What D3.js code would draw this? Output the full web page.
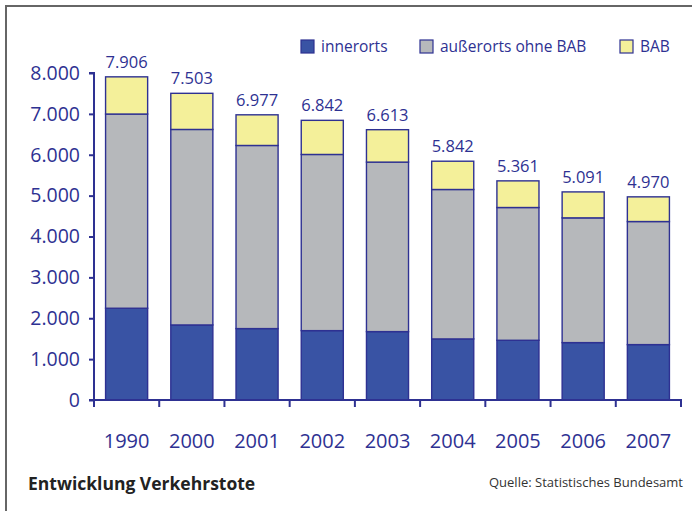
<!DOCTYPE html>
<html>
<head>
<meta charset="utf-8">
<script src="https://cdn.jsdelivr.net/npm/d3@7"></script>
<style>
  body { margin: 0; background: #fff; }
  text { font-family: "Open Sans", "Noto Sans", sans-serif; }
</style>
</head>
<body>
<svg id="chart" width="692" height="511"></svg>
<script>
// data
const years = ['1990', '2000', '2001', '2002', '2003', '2004', '2005', '2006', '2007'];
const innerorts = [2245, 1836, 1747, 1697, 1673, 1494, 1461, 1404, 1355];
const ausserorts = [4751, 4783, 4480, 4310, 4147, 3656, 3248, 3052, 3011];
const bab = [910, 884, 750, 835, 793, 692, 652, 635, 604];
const totals = [7906, 7503, 6977, 6842, 6613, 5842, 5361, 5091, 4970];
const yTicks = [0, 1000, 2000, 3000, 4000, 5000, 6000, 7000, 8000];
const seriesNames = ['innerorts', 'außerorts ohne BAB', 'BAB'];

const navy = '#2e3192';
const colors = ['#3953a4', '#b6b8bb', '#f4f09a'];

const rows = years.map((y, i) => ({
  year: y,
  innerorts: innerorts[i],
  ausserorts: ausserorts[i],
  bab: bab[i],
  total: totals[i]
}));

const de = d3.formatLocale({ decimal: ',', thousands: '.', grouping: [3], currency: ['', ' €'] });
const fmt = de.format(',d');

const svg = d3.select('#chart');

// frame (top and left lines only)
svg.append('path')
  .attr('d', 'M6,511 V6 H692')
  .attr('fill', 'none')
  .attr('stroke', '#666')
  .attr('stroke-width', 2);

const x = d3.scaleBand()
  .domain(years)
  .range([94, 681])
  .paddingInner(0.355)
  .paddingOuter(0.1775);

const y = d3.scaleLinear()
  .domain([0, 8000])
  .range([400, 73]);

const stack = d3.stack().keys(['innerorts', 'ausserorts', 'bab']);
const series = stack(rows);

const layers = svg.append('g')
  .selectAll('g')
  .data(series)
  .join('g')
  .attr('fill', (d, i) => colors[i]);

layers.selectAll('rect')
  .data(d => d)
  .join('rect')
  .attr('x', d => x(d.data.year))
  .attr('y', d => y(d[1]))
  .attr('width', x.bandwidth())
  .attr('height', d => y(d[0]) - y(d[1]))
  .attr('stroke', navy)
  .attr('stroke-width', 1.4);

// totals above bars
svg.append('g')
  .selectAll('text')
  .data(rows)
  .join('text')
  .attr('x', d => x(d.year) + x.bandwidth() / 2)
  .attr('y', d => y(d.total) - 9)
  .attr('text-anchor', 'middle')
  .attr('font-size', 16.5)
  .attr('fill', navy)
  .text(d => fmt(d.total));

// y axis
const yAxis = svg.append('g')
  .attr('transform', 'translate(94,0)')
  .call(d3.axisLeft(y).tickValues(yTicks).tickSize(5).tickPadding(9).tickFormat(fmt));
yAxis.select('.domain').attr('stroke', navy).attr('stroke-width', 2).attr('d', 'M-5,' + y(8000) + 'H0V' + y(0));
yAxis.selectAll('.tick line').attr('stroke', navy).attr('stroke-width', 2);
yAxis.selectAll('.tick text')
  .attr('fill', navy)
  .attr('font-size', 19.5)
  .attr('font-family', '"Open Sans", sans-serif');

// x axis: boundary ticks + year labels
const xAxis = svg.append('g').attr('transform', 'translate(0,' + y(0) + ')');
xAxis.append('line')
  .attr('x1', 89).attr('x2', 682)
  .attr('stroke', navy).attr('stroke-width', 2);
const bounds = d3.range(years.length + 1).map(i => x.range()[0] + i * x.step());
xAxis.selectAll('line.tk')
  .data(bounds)
  .join('line')
  .attr('class', 'tk')
  .attr('x1', d => d).attr('x2', d => d)
  .attr('y1', 0).attr('y2', 7)
  .attr('stroke', navy).attr('stroke-width', 2);
xAxis.selectAll('text')
  .data(years)
  .join('text')
  .attr('x', d => x(d) + x.bandwidth() / 2)
  .attr('y', 48)
  .attr('text-anchor', 'middle')
  .attr('font-size', 20)
  .attr('fill', navy)
  .text(d => d);

// legend
const legendX = [301, 420, 620];
const legend = svg.append('g')
  .selectAll('g')
  .data(seriesNames)
  .join('g')
  .attr('transform', (d, i) => 'translate(' + legendX[i] + ',40)');
legend.append('rect')
  .attr('width', 13).attr('height', 13)
  .attr('fill', (d, i) => colors[i])
  .attr('stroke', navy).attr('stroke-width', 1.2);
legend.append('text')
  .attr('x', 20).attr('y', 12)
  .attr('font-size', 15.5)
  .attr('fill', navy)
  .text(d => d);

// footer
svg.append('text')
  .attr('x', 28).attr('y', 490)
  .attr('font-size', 17.5)
  .attr('font-weight', 'bold')
  .attr('fill', '#222')
  .text('Entwicklung Verkehrstote');
svg.append('text')
  .attr('x', 683).attr('y', 487)
  .attr('text-anchor', 'end')
  .attr('font-size', 13)
  .attr('fill', '#333')
  .text('Quelle: Statistisches Bundesamt');
</script>
</body>
</html>
